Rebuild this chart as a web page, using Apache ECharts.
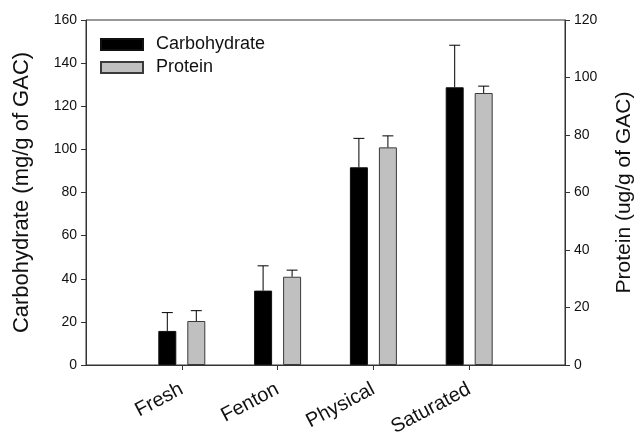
<!DOCTYPE html>
<html>
<head>
<meta charset="utf-8">
<script src="https://cdn.jsdelivr.net/npm/echarts@6/dist/echarts.min.js"></script>
<style>
  html, body { margin: 0; padding: 0; background: #fff; }
  #chart { width: 641px; height: 432px; }
</style>
</head>
<body>
<div id="chart"></div>
<script>
// Treatments along the x axis
const categories = ['Fresh', 'Fenton', 'Physical', 'Saturated'];
// Carbohydrate, mg/g of GAC (left axis) and its upper error
const carbohydrate = [15.8, 34.5, 91.7, 128.8];
const carbohydrateErr = [8.5, 11.5, 13.4, 19.5];
// Protein, ug/g of GAC (right axis) and its upper error
const protein = [15.3, 30.7, 75.7, 94.6];
const proteinErr = [3.6, 2.3, 4.0, 2.4];
// Tick labels
const leftTicks = [0, 20, 40, 60, 80, 100, 120, 140, 160];
const rightTicks = [0, 20, 40, 60, 80, 100, 120];

const FONT = 'Liberation Sans, Arial, sans-serif';
const AXIS_COLOR = '#333';
const TEXT_COLOR = '#111';
const BAR_WIDTH = 18;
const BAR_GAP = 11;
const CAP_HALF = 5.5;

// The category axis is padded with an empty slot at each end, so the
// four treatments sit on ticks 1..4 of a 0..5 axis.
const xData = [''].concat(categories, ['']);
const pairs = (vals, errs) => vals.map((v, i) => [i + 1, v, errs[i]]);

function errorBars(offset) {
  return function (params, api) {
    const x = api.value(0);
    const v = api.value(1);
    const e = api.value(2);
    const base = api.coord([x, v]);
    const top = api.coord([x, v + e]);
    const cx = base[0] + offset;
    const style = { stroke: '#000', lineWidth: 1 };
    return {
      type: 'group',
      children: [
        { type: 'line', shape: { x1: cx, y1: base[1], x2: cx, y2: top[1] }, style: style },
        { type: 'line', shape: { x1: cx - CAP_HALF, y1: top[1], x2: cx + CAP_HALF, y2: top[1] }, style: style }
      ]
    };
  };
}

const half = (BAR_WIDTH + BAR_GAP) / 2;

const option = {
  animation: false,
  textStyle: { fontFamily: FONT },
  grid: {
    left: 86, right: 76, top: 20, bottom: 67,
    containLabel: false,
    outerBoundsMode: 'none',
    show: true, borderColor: AXIS_COLOR, borderWidth: 1
  },
  legend: {
    orient: 'vertical',
    left: 100, top: 34,
    padding: 0,
    itemWidth: 42, itemHeight: 11, itemGap: 2,
    icon: 'rect',
    textStyle: { fontSize: 18, lineHeight: 21, color: TEXT_COLOR, fontFamily: FONT, padding: [0, 0, 0, 8] },
    data: ['Carbohydrate', 'Protein']
  },
  xAxis: {
    type: 'category',
    data: xData,
    boundaryGap: false,
    axisLine: { lineStyle: { color: AXIS_COLOR, width: 1 } },
    axisTick: {
      length: 5,
      interval: (i) => i > 0 && i < xData.length - 1,
      lineStyle: { color: AXIS_COLOR }
    },
    axisLabel: {
      rotate: 28, margin: 23, fontSize: 20, color: TEXT_COLOR, fontFamily: FONT,
      interval: 0
    },
    splitLine: { show: false }
  },
  yAxis: [
    {
      type: 'value', min: 0, max: 160, interval: 20,
      name: 'Carbohydrate (mg/g of GAC)',
      nameLocation: 'middle', nameGap: 53,
      nameTextStyle: { fontSize: 22, color: TEXT_COLOR, fontFamily: FONT },
      axisLine: { show: true, lineStyle: { color: AXIS_COLOR } },
      axisTick: { show: true, length: 5, lineStyle: { color: AXIS_COLOR } },
      axisLabel: {
        fontSize: 14, color: TEXT_COLOR, margin: 9, fontFamily: FONT,
        formatter: (v) => leftTicks.indexOf(v) >= 0 ? String(v) : ''
      },
      splitLine: { show: false }
    },
    {
      type: 'value', min: 0, max: 120, interval: 20,
      name: 'Protein (ug/g of GAC)',
      nameLocation: 'middle', nameGap: 49, nameRotate: 90,
      nameTextStyle: { fontSize: 21, color: TEXT_COLOR, fontFamily: FONT },
      axisLine: { show: true, lineStyle: { color: AXIS_COLOR } },
      axisTick: { show: true, length: 5, lineStyle: { color: AXIS_COLOR } },
      axisLabel: {
        fontSize: 14, color: TEXT_COLOR, margin: 9, fontFamily: FONT,
        formatter: (v) => rightTicks.indexOf(v) >= 0 ? String(v) : ''
      },
      splitLine: { show: false }
    }
  ],
  series: [
    {
      name: 'Carbohydrate', type: 'bar', yAxisIndex: 0,
      barWidth: BAR_WIDTH, barGap: (BAR_GAP / BAR_WIDTH * 100) + '%',
      itemStyle: { color: '#000', borderColor: '#111', borderWidth: 1 },
      data: carbohydrate.map((v, i) => [i + 1, v])
    },
    {
      name: 'Protein', type: 'bar', yAxisIndex: 1,
      barWidth: BAR_WIDTH, barGap: (BAR_GAP / BAR_WIDTH * 100) + '%',
      itemStyle: { color: '#c0c0c0', borderColor: '#3a3a3a', borderWidth: 1 },
      data: protein.map((v, i) => [i + 1, v])
    },
    {
      type: 'custom', yAxisIndex: 0, z: 3,
      renderItem: errorBars(-half),
      encode: { x: 0, y: [1, 2] },
      data: pairs(carbohydrate, carbohydrateErr)
    },
    {
      type: 'custom', yAxisIndex: 1, z: 3,
      renderItem: errorBars(half),
      encode: { x: 0, y: [1, 2] },
      data: pairs(protein, proteinErr)
    }
  ]
};

const chart = echarts.init(document.getElementById('chart'), null, { renderer: 'canvas' });
chart.setOption(option);
</script>
</body>
</html>
